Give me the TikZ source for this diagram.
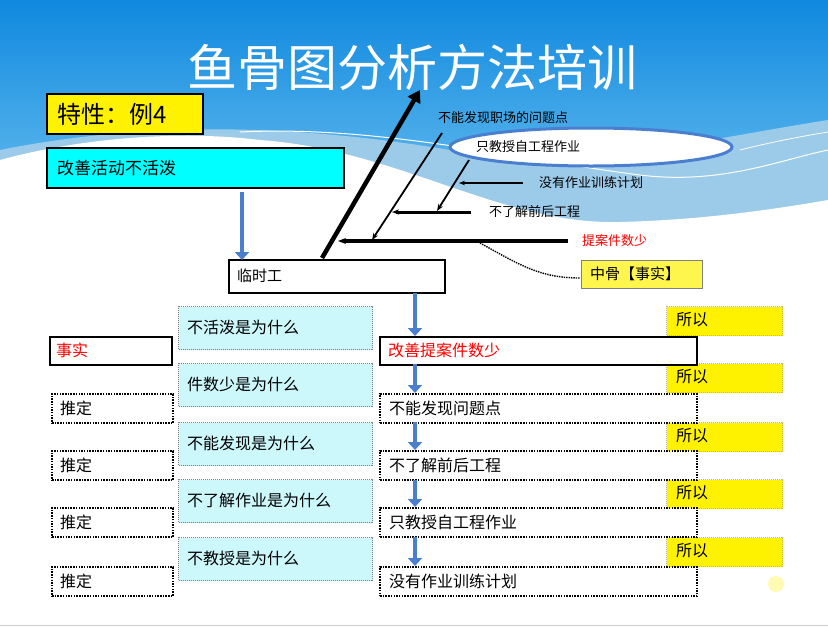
\documentclass[tikz,border=0pt]{standalone}
\usepackage{fontspec}
\setmainfont{Noto Sans CJK SC}
\usetikzlibrary{arrows.meta,shapes.geometric}
\definecolor{skyA}{HTML}{1089DF}
\definecolor{skyB}{HTML}{6FC2F0}
\definecolor{wave}{HTML}{9CCBEA}
\definecolor{ltcyan}{HTML}{CCF7FB}
\definecolor{brcyan}{HTML}{00FFFF}
\definecolor{arrblue}{HTML}{4A7FD0}
\tikzset{
 lbl/.style={font=\fontsize{13}{13}\selectfont,inner sep=0pt},
 solidbox/.style={draw=black,line width=2pt,anchor=north west,inner sep=0pt},
 dotbox/.style={draw=black,dash pattern=on 1.5pt off 1.2pt,line width=2pt,anchor=north west,inner sep=0pt},
 whybox/.style={draw=gray,dash pattern=on 1pt off 1pt,line width=1pt,fill=ltcyan,anchor=north west,inner sep=0pt},
 sobox/.style={draw=gray!60!yellow,dash pattern=on 1pt off 1pt,line width=1pt,fill=yellow,anchor=north west,inner sep=0pt},
 bluearr/.style={draw=arrblue,line width=4pt,-{Triangle[length=8pt,width=14pt]}},
 bone/.style={line width=1.8pt,-{Stealth[length=7pt]}},
 btext/.style={font=\fontsize{16}{16}\selectfont,anchor=west,inner sep=0pt}
}
\begin{document}
\begin{tikzpicture}[x=1pt,y=-1pt]
\useasboundingbox (0,0) rectangle (828,627);
% background
\fill[white] (0,0) rectangle (828,627);
\shade[top color=skyA,bottom color=skyB] (0,0) rectangle (828,230);
\fill[wave] (0,150) .. controls (150,120) and (300,125) .. (450,150) .. controls (560,175) and (700,140) .. (828,120) -- (828,240) -- (0,240) -- cycle;
\fill[white] (0,160) .. controls (80,138) and (180,130) .. (260,140) .. controls (400,150) and (500,225) .. (620,222) .. controls (700,220) and (770,210) .. (828,200) -- (828,260) -- (0,260) -- cycle;
\draw[white,line width=1pt] (240,132) .. controls (380,125) and (520,160) .. (640,175) .. controls (720,185) and (780,160) .. (828,150);
\draw[white,line width=0.8pt] (740,150) .. controls (780,140) and (810,135) .. (828,132);
\draw[gray!40,line width=1pt] (0,625) -- (828,625);
\fill[yellow!30] (776,584) circle (8);
% title
\node[white,font=\fontsize{50}{50}\selectfont] (title) at (412,67) {鱼骨图分析方法培训};
% header boxes
\node[solidbox,fill=yellow,minimum width=156pt,minimum height=40pt] (feat) at (46,93) {};
\node[font=\fontsize{24}{24}\selectfont,anchor=west] (featt) at (54,114) {特性：例4};
\node[solidbox,fill=brcyan,minimum width=297pt,minimum height=40pt] (prob) at (46,147) {};
\node[btext,font=\fontsize{17}{17}\selectfont] (probt) at (57,168) {改善活动不活泼};
\node[solidbox,line width=1.6pt,fill=white,minimum width=216pt,minimum height=33pt] (tmp) at (228,259) {};
\node[lbl,anchor=west,font=\fontsize{15}{15}\selectfont] (tmpt) at (237,276) {临时工};
\draw[bluearr] (242,192) -- (242,260);
% fishbone
\coordinate (sp0) at (322,258); \coordinate (sp1) at (420,90);
\draw[line width=4.5pt,-{Triangle[length=12pt,width=14pt]}] (sp0) -- (sp1);
\coordinate (t1) at (338,241); \coordinate (t2) at (568,241);
\draw[line width=3.5pt,-{Stealth[length=8pt]}] (t2) -- (t1);
\node[lbl,red,anchor=west] (tian) at (582,241) {提案件数少};
\coordinate (b1a) at (442,133); \coordinate (b1b) at (372,240);
\draw[bone] (b1a) -- (b1b);
\node[lbl,anchor=west] (b1t) at (438,118) {不能发现职场的问题点};
\coordinate (h2a) at (471,212); \coordinate (h2b) at (392,212);
\draw[line width=3pt,-{Stealth[length=7pt]}] (h2a) -- (h2b);
\node[lbl,anchor=west] (h2t) at (489,212) {不了解前后工程};
\coordinate (b2a) at (469,160); \coordinate (b2b) at (437,211);
\draw[bone] (b2a) -- (b2b);
\coordinate (b3a) at (523,183); \coordinate (b3b) at (459,183);
\draw[line width=1.2pt,-{Stealth[length=6pt]}] (b3a) -- (b3b);
\node[lbl,anchor=west] (b3t) at (539,183) {没有作业训练计划};
\node[ellipse,draw=arrblue,line width=3pt,fill=white,minimum width=282pt,minimum height=38pt] (ell) at (591,147) {};
\node[lbl,anchor=west] (ellt) at (476,147) {只教授自工程作业};
\node[solidbox,fill=yellow!70,line width=1.2pt,draw=gray,minimum width=121pt,minimum height=28pt] (zg) at (581,260) {};
\node[lbl,anchor=west,font=\fontsize{15}{15}\selectfont] (zgt) at (590,274) {中骨【事实】};
\draw[densely dotted,line width=1.4pt] (480,243) .. controls (520,265) and (540,278) .. (580,278);
% lower table
\foreach \y/\t in {306/不活泼是为什么,363/件数少是为什么,422/不能发现是为什么,479/不了解作业是为什么,537/不教授是为什么}{
  \node[whybox,minimum width=194pt,minimum height=43pt] at (178,\y) {};
  \node[btext] at (187,\y+21) {\t};
}
\foreach \y in {306,363,422,479,537}{
  \node[sobox,minimum width=116pt,minimum height=29pt] at (666,\y) {};
  \node[btext] at (676,\y+14) {所以};
}
\node[solidbox,fill=white,minimum width=122pt,minimum height=28pt] (fact) at (49,336) {};
\node[btext,red] (factt) at (56,350) {事实};
\node[solidbox,fill=white,minimum width=317pt,minimum height=28pt] (imp) at (379,336) {};
\node[btext,red] (impt) at (388,350) {改善提案件数少};
\foreach \y/\t in {393/不能发现问题点,450/不了解前后工程,507/只教授自工程作业,566/没有作业训练计划}{
  \node[dotbox,minimum width=121pt,minimum height=29pt] at (51,\y) {};
  \node[btext] at (60,\y+15) {推定};
  \node[dotbox,fill=white,minimum width=317pt,minimum height=29pt] at (379,\y) {};
  \node[btext] at (389,\y+15) {\t};
}
\draw[bluearr] (415,293) -- (415,336);
\foreach \a/\b in {364/393,422/450,480/507,537/566}{
  \draw[bluearr] (415,\a) -- (415,\b);
}
\end{tikzpicture}
\end{document}
